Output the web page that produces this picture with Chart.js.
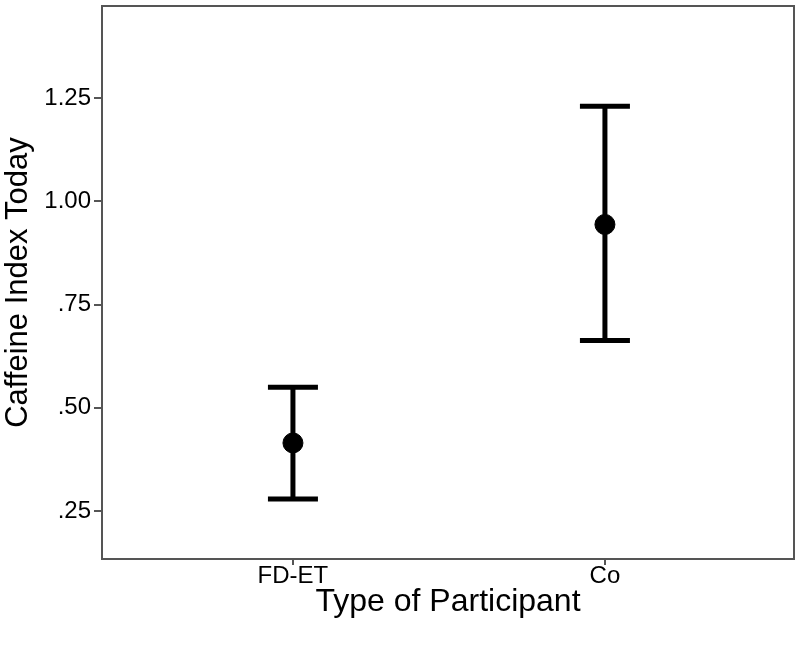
<!DOCTYPE html>
<html>
<head>
<meta charset="utf-8">
<script src="https://cdn.jsdelivr.net/npm/chart.js@4"></script>
<style>
  html, body { margin: 0; padding: 0; background: #fff; }
  #wrap { width: 800px; height: 645px; }
</style>
</head>
<body>
<div id="wrap"><canvas id="chart" width="800" height="645"></canvas></div>
<script>
const categories = ['FD-ET', 'Co'];
const means = [0.415, 0.944];
const upper = [0.550, 1.230];
const lower = [0.279, 0.663];
const yTicks = [0.25, 0.50, 0.75, 1.00, 1.25];

const font = 'Liberation Sans, Arial, sans-serif';

// draws whiskers + caps + the outer frame
const errorBars = {
    id: 'errorBars',
    beforeDatasetsDraw(chart) {
        const ctx = chart.ctx;
        const x = chart.scales.x, y = chart.scales.y;
        ctx.save();
        ctx.strokeStyle = '#000';
        ctx.lineWidth = 5;
        ctx.lineCap = 'butt';
        categories.forEach((c, i) => {
            const px = x.getPixelForValue(i);
            const top = y.getPixelForValue(upper[i]);
            const bot = y.getPixelForValue(lower[i]);
            ctx.beginPath();
            ctx.moveTo(px, top); ctx.lineTo(px, bot);
            ctx.moveTo(px - 25, top); ctx.lineTo(px + 25, top);
            ctx.moveTo(px - 25, bot); ctx.lineTo(px + 25, bot);
            ctx.stroke();
        });
        ctx.restore();
    },
    afterDraw(chart) {
        const a = chart.chartArea, ctx = chart.ctx;
        ctx.save();
        ctx.strokeStyle = '#555';
        ctx.lineWidth = 2;
        ctx.strokeRect(a.left, a.top, a.right - a.left, a.bottom - a.top);
        ctx.restore();
    }
};

new Chart(document.getElementById('chart'), {
    type: 'scatter',
    data: {
        datasets: [{
            data: means.map((m, i) => ({ x: i, y: m })),
            backgroundColor: '#000',
            borderColor: '#000',
            pointRadius: 10,
            pointHoverRadius: 10
        }]
    },
    options: {
        responsive: false,
        animation: false,
        events: [],
        layout: { autoPadding: false, padding: { top: 6, right: 6, left: 0, bottom: 0 } },
        plugins: { legend: { display: false }, tooltip: { enabled: false } },
        scales: {
            x: {
                type: 'linear',
                min: -0.612,
                max: 1.606,
                afterBuildTicks: s => { s.ticks = categories.map((c, i) => ({ value: i })); },
                afterFit: s => { s.height = 86; s.paddingLeft = 0; s.paddingRight = 0; },
                grid: { display: true, drawOnChartArea: false, drawTicks: true, tickLength: 6, color: '#555', lineWidth: 2 },
                border: { display: true, color: '#555', width: 2 },
                ticks: {
                    color: '#000',
                    font: { family: font, size: 24 },
                    padding: -3,
                    maxRotation: 0,
                    callback: v => categories[v]
                },
                title: {
                    display: true,
                    text: 'Type of Participant',
                    color: '#000',
                    font: { family: font, size: 32 },
                    padding: { top: 0, bottom: 24 }
                }
            },
            y: {
                min: 0.134,
                max: 1.473,
                afterBuildTicks: s => { s.ticks = yTicks.map(v => ({ value: v })); },
                afterFit: s => { s.width = 102; s.paddingTop = 0; s.paddingBottom = 0; },
                grid: { display: true, drawOnChartArea: false, drawTicks: true, tickLength: 8, color: '#555', lineWidth: 2 },
                border: { display: true, color: '#555', width: 2 },
                ticks: {
                    color: '#000',
                    font: { family: font, size: 24 },
                    padding: 3,
                    callback: v => v.toFixed(2).replace(/^0/, '')
                },
                title: {
                    display: true,
                    text: 'Caffeine Index Today',
                    color: '#000',
                    font: { family: font, size: 31 },
                    padding: { top: 0, bottom: 0 }
                }
            }
        }
    },
    plugins: [errorBars]
});
</script>
</body>
</html>
